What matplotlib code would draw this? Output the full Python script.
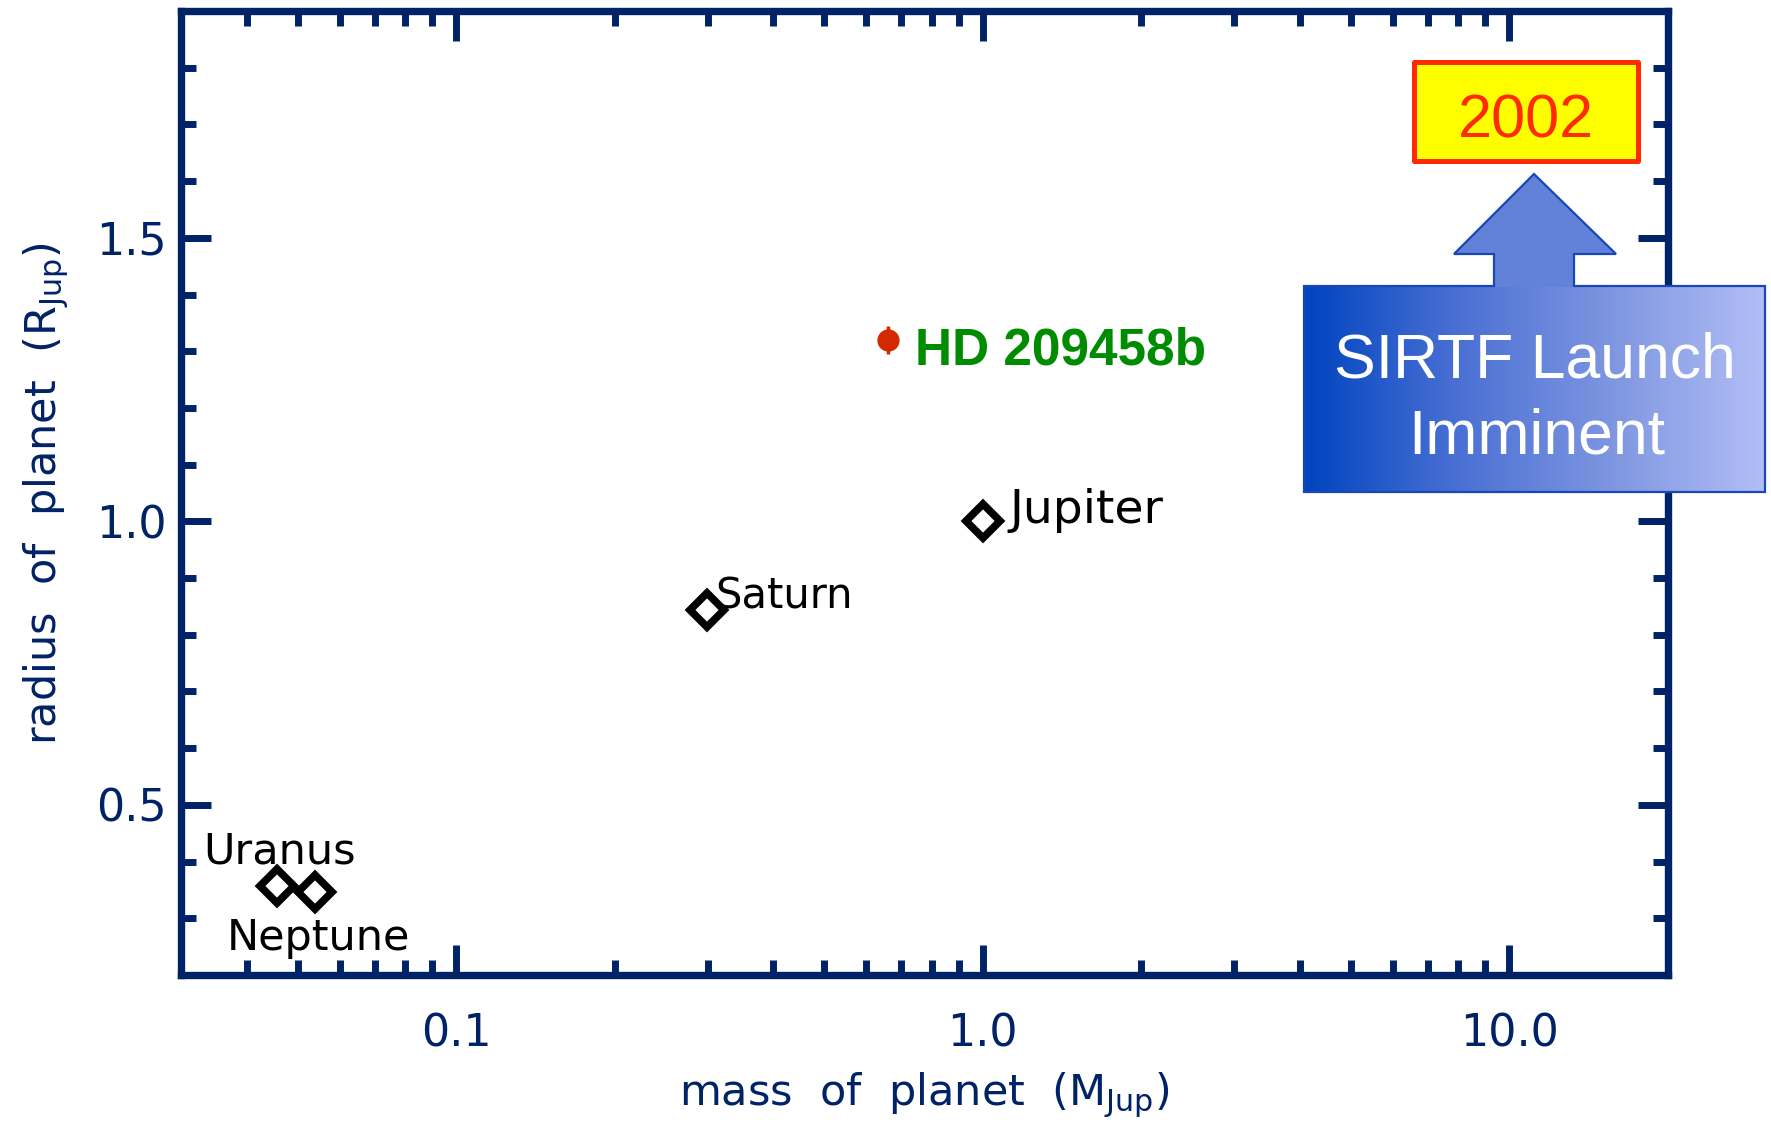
import numpy as np
import matplotlib
matplotlib.use('Agg')
import matplotlib.pyplot as plt
from matplotlib.patches import Rectangle, Polygon
from matplotlib.colors import LinearSegmentedColormap
from matplotlib.ticker import FixedLocator, NullFormatter

# ---------------- data ----------------
planets = ['Uranus', 'Neptune', 'Saturn', 'Jupiter']
planet_mass = [0.0457, 0.054, 0.299, 1.0]        # M_Jup
planet_radius = [0.357, 0.346, 0.843, 1.0]       # R_Jup

exo_name = 'HD 209458b'
exo_mass = [0.66]
exo_radius = [1.32]
exo_radius_err = [0.025]

xticks = [0.1, 1.0, 10.0]
xticklabels = ['0.1', '1.0', '10.0']
yticks = [0.5, 1.0, 1.5]
yticklabels = ['0.5', '1.0', '1.5']

year_text = '2002'
callout_lines = ['SIRTF Launch', 'Imminent']

# ---------------- figure ----------------
W, H = 1771, 1133
plt.rcParams['mathtext.fontset'] = 'dejavusans'
fig = plt.figure(figsize=(W / 100, H / 100), dpi=100)
ax = fig.add_axes([181 / W, 1 - 975 / H, 1487 / W, 964 / H])
ax.set_xscale('log')
ax.set_xlim(0.03, 20)
ax.set_ylim(0.2, 1.9)

navy = '#002266'
for s in ax.spines.values():
    s.set_color(navy)
    s.set_linewidth(5.3)

ax.xaxis.set_major_locator(FixedLocator(xticks))
ax.set_xticklabels(xticklabels)
xminor = [k * 10.0 ** e for e in (-2, -1, 0, 1) for k in range(2, 10)]
xminor = [v for v in xminor if 0.03 < v < 20]
ax.xaxis.set_minor_locator(FixedLocator(xminor))
ax.xaxis.set_minor_formatter(NullFormatter())

ax.yaxis.set_major_locator(FixedLocator(yticks))
ax.set_yticklabels(yticklabels)
yminor = [round(v, 2) for v in np.arange(0.3, 1.85, 0.1)]
yminor = [v for v in yminor if v not in yticks]
ax.yaxis.set_minor_locator(FixedLocator(yminor))
ax.yaxis.set_minor_formatter(NullFormatter())

ax.tick_params(which='both', direction='in', top=True, right=True,
               colors=navy, width=5.0)
ax.tick_params(which='major', length=21.5)
ax.tick_params(which='minor', length=11)
ax.tick_params(axis='x', which='major', pad=27, labelsize=32)
ax.tick_params(axis='y', which='major', pad=10, labelsize=32)

# axis labels
fig.text(924 / W, 1 - 1105 / H, r'mass  of  planet  (M$_{\mathrm{Jup}}$)',
         ha='center', va='baseline', fontsize=31, color=navy)
fig.text(56 / W, 1 - 494 / H, r'radius  of  planet  (R$_{\mathrm{Jup}}$)',
         ha='center', va='baseline', rotation=90, rotation_mode='anchor',
         fontsize=31, color=navy)

# solar-system planets
ax.plot(planet_mass, planet_radius, ls='none', marker='D', ms=17,
        mfc='none', mec='black', mew=5.5, zorder=5)
label_offsets = {'Uranus': (-74, 22), 'Neptune': (-89, -58),
                 'Saturn': (8, 2), 'Jupiter': (27, -2)}
label_sizes = {'Uranus': 31, 'Neptune': 31, 'Saturn': 30, 'Jupiter': 34}
for name, m, r in zip(planets, planet_mass, planet_radius):
    ax.annotate(name, (m, r), xytext=label_offsets[name],
                textcoords='offset pixels', ha='left', va='baseline',
                fontsize=label_sizes[name], color='black', zorder=6)

# transiting exoplanet
ax.errorbar(exo_mass, exo_radius, yerr=exo_radius_err, fmt='o',
            color='#D42800', ms=15, elinewidth=2.5, capsize=0, zorder=6)
ax.annotate(exo_name, (exo_mass[0], exo_radius[0]), xytext=(27, -25),
            textcoords='offset pixels', ha='left', va='baseline',
            fontsize=37, fontweight='bold', family='Liberation Sans',
            color='#008C00', zorder=6)

# ---------------- overlay callouts ----------------
ov = fig.add_axes([0, 0, 1, 1], zorder=10)
ov.set_xlim(0, W)
ov.set_ylim(H, 0)
ov.axis('off')

# 2002 box
ov.add_patch(Rectangle((1414, 62), 224, 99, facecolor='#FFFF00',
                       edgecolor='#FF2A00', lw=3.6, joinstyle='round'))
ov.text(1526, 137, year_text, ha='center', va='baseline', fontsize=44,
        family='Liberation Sans', color='#FF2A00')

# gradient box + arrow
bx0, bx1, by0, by1 = 1304, 1765, 286, 492
cmap = LinearSegmentedColormap.from_list(
    'g', ['#0044BE', '#4A70D4', '#7E96E0', '#B2BEF6'])
grad = np.linspace(0, 1, 256).reshape(1, -1)
clip = Rectangle((bx0, by0), bx1 - bx0, by1 - by0, transform=ov.transData,
                 facecolor='none', edgecolor='none')
ov.add_patch(clip)
im = ov.imshow(grad, cmap=cmap, extent=[bx0, bx1, by1, by0], aspect='auto',
               interpolation='bilinear', zorder=1)
im.set_clip_path(clip)
arrow = [(1494, 287), (1494, 254), (1454, 254), (1534, 174), (1616, 254),
         (1574, 254), (1574, 287)]
ov.add_patch(Polygon(arrow, closed=True, facecolor='#6282DA',
                     edgecolor='none', zorder=2))
outline = [(bx0, by0), (1494, by0), (1494, 254), (1454, 254), (1534, 174),
           (1616, 254), (1574, 254), (1574, by0), (bx1, by0), (bx1, by1),
           (bx0, by1)]
ov.add_patch(Polygon(outline, closed=True, facecolor='none',
                     edgecolor='#1848B4', lw=1.6, zorder=3))
ov.text(1535, 377, callout_lines[0], ha='center', va='baseline',
        fontsize=45, family='Liberation Sans', color='white', zorder=4)
ov.text(1537, 453, callout_lines[1], ha='center', va='baseline',
        fontsize=45, family='Liberation Sans', color='white', zorder=4)

ov.set_xlim(0, W)
ov.set_ylim(H, 0)

fig.savefig('out.png', dpi=100)
